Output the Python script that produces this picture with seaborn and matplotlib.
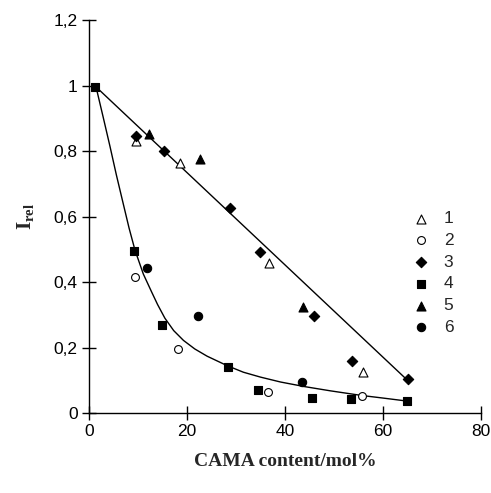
import matplotlib
matplotlib.use("Agg")
import matplotlib.pyplot as plt
import seaborn as sns

# data
s1_x = [9.7, 18.6, 36.7, 55.8]
s1_y = [0.830, 0.765, 0.457, 0.126]
s2_x = [9.4, 18.1, 36.5, 55.6]
s2_y = [0.416, 0.195, 0.065, 0.052]
s3_x = [9.6, 15.4, 28.7, 34.8, 45.9, 53.7, 65.0]
s3_y = [0.846, 0.801, 0.628, 0.493, 0.297, 0.160, 0.103]
s4_x = [1.2, 9.2, 14.9, 28.3, 34.5, 45.5, 53.5, 64.8]
s4_y = [0.996, 0.495, 0.269, 0.141, 0.070, 0.047, 0.042, 0.037]
s5_x = [12.3, 22.7, 43.7]
s5_y = [0.854, 0.775, 0.325]
s6_x = [11.8, 22.2, 43.5]
s6_y = [0.444, 0.296, 0.096]

# straight line and the curve
line_x = [1.2, 65.0]
line_y = [1.0, 0.10]
curve_x = [1.4, 2.9, 4.3, 5.6, 7.0, 8.2, 9.4, 11.1, 12.8, 14.0, 15.5, 17.3, 19.3,
           21.6, 24.1, 28.2, 31.5, 35.0, 39.1, 44.0, 49.3, 55.6, 60.0, 64.8]
curve_y = [1.0, 0.905, 0.815, 0.728, 0.640, 0.565, 0.498, 0.425, 0.370, 0.332, 0.290,
           0.252, 0.222, 0.196, 0.174, 0.145, 0.125, 0.110, 0.095, 0.081, 0.068,
           0.054, 0.046, 0.037]

x_ticks = [0, 20, 40, 60, 80]
y_ticks = [0, 0.2, 0.4, 0.6, 0.8, 1.0, 1.2]
y_labels = ["0", "0,2", "0,4", "0,6", "0,8", "1", "1,2"]

sns.set_style("ticks")
plt.rcParams['font.family'] = ['Liberation Sans', 'DejaVu Sans']
plt.rcParams['mathtext.fontset'] = 'custom'
plt.rcParams['mathtext.bf'] = 'Liberation Serif:bold'
plt.rcParams['mathtext.rm'] = 'Liberation Serif:bold'

fig = plt.figure(figsize=(4.91, 4.93), dpi=100)
ax = fig.add_axes([0.181, 0.162, 0.799, 0.797])

sns.lineplot(x=line_x, y=line_y, color="black", linewidth=1, sort=False, estimator=None, ax=ax)
sns.lineplot(x=curve_x, y=curve_y, color="black", linewidth=1, sort=False, estimator=None, ax=ax)

series = [
    (s1_x, s1_y, "^", "white", 42, "1"),
    (s2_x, s2_y, "o", "white", 32, "2"),
    (s3_x, s3_y, "D", "black", 28, "3"),
    (s4_x, s4_y, "s", "black", 36, "4"),
    (s5_x, s5_y, "^", "black", 42, "5"),
    (s6_x, s6_y, "o", "black", 36, "6"),
]
for xs, ys, m, fc, sz, lab in series:
    sns.scatterplot(x=xs, y=ys, marker=m, color=fc, edgecolor="black",
                    linewidth=0.8, s=sz, label=lab, ax=ax, zorder=3)

ax.set_xlim(0, 80)
ax.set_ylim(0, 1.2)
ax.set_xticks(x_ticks)
ax.set_yticks(y_ticks)
ax.set_yticklabels(y_labels)
ax.tick_params(direction="inout", length=10, width=1, labelsize=12.5, colors="black", pad=3)
for sp in ["top", "right"]:
    ax.spines[sp].set_visible(False)
for sp in ["left", "bottom"]:
    ax.spines[sp].set_linewidth(1)
    ax.spines[sp].set_color("black")

ax.set_xlabel("CAMA content/mol%", fontsize=14, fontweight="bold",
              family="Liberation Serif", labelpad=10)
ax.set_ylabel(r"$\mathbf{I_{rel}}$", fontsize=15, labelpad=13)

ax.legend(frameon=False, loc="upper left", bbox_to_anchor=(0.785, 0.532),
          fontsize=12.5, handletextpad=0.3, labelspacing=0.38, borderaxespad=0)

fig.savefig("out.png", dpi=100)
